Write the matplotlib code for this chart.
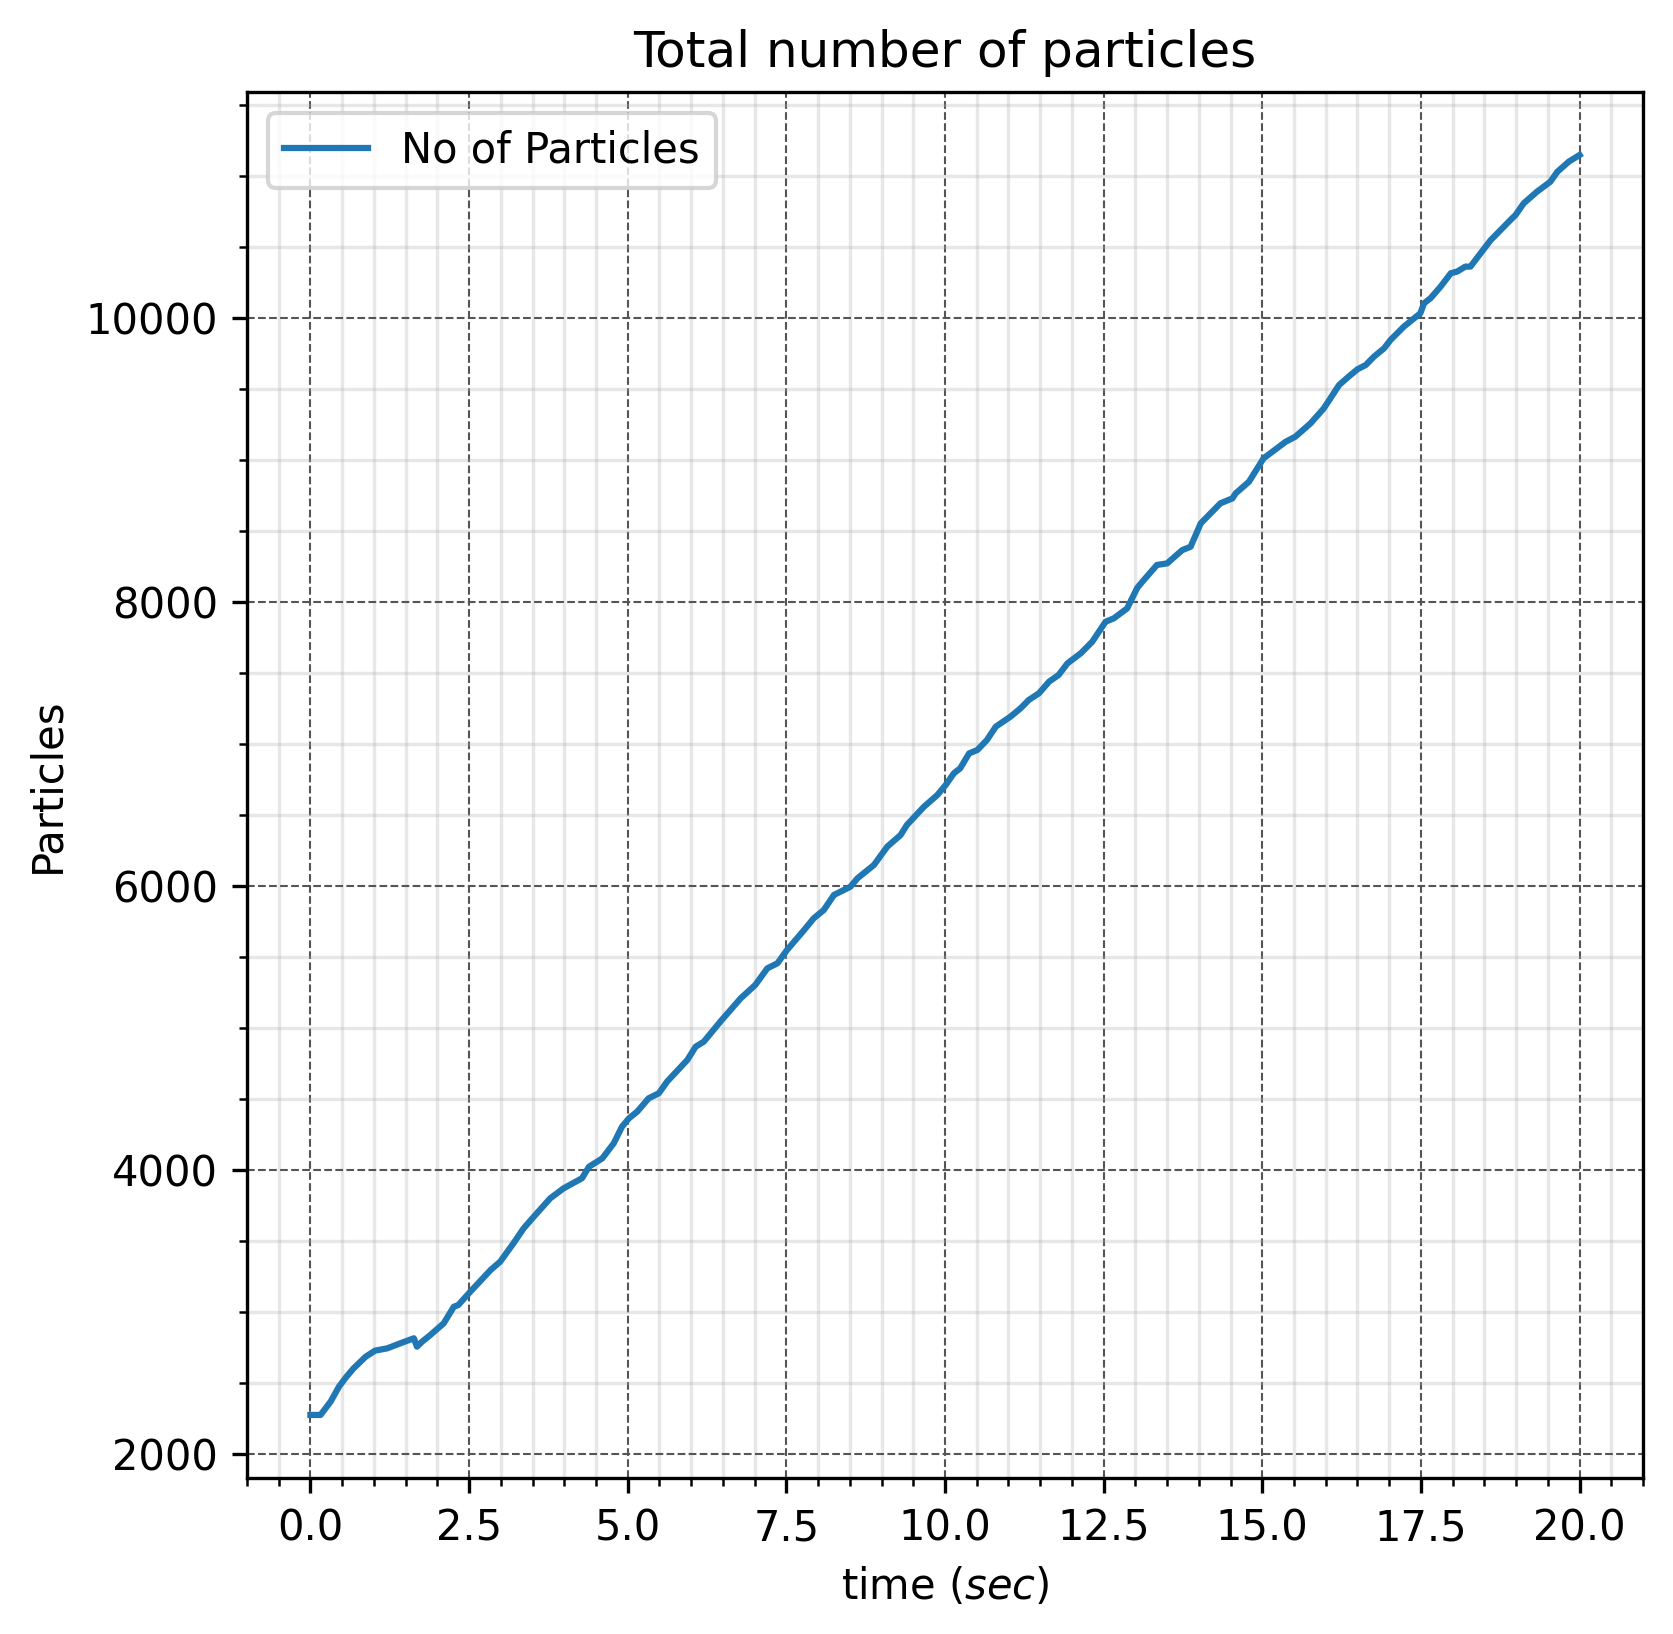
import numpy as np
import matplotlib
matplotlib.use('Agg')
import matplotlib.pyplot as plt

# time (sec) and particle count
time_sec = [0.00, 0.16, 0.32, 0.45, 0.56, 0.68, 0.87, 1.02, 1.21, 1.42, 1.63, 1.68, 1.76,
            1.89, 2.10, 2.26, 2.33, 2.52, 2.84, 2.99, 3.20, 3.36, 3.52, 3.78, 3.99, 4.28,
            4.39, 4.60, 4.78, 4.91, 5.02, 5.15, 5.33, 5.49, 5.62, 5.94, 6.07, 6.20, 6.46,
            6.78, 7.01, 7.20, 7.36, 7.51, 7.78, 7.93, 8.09, 8.25, 8.51, 8.62, 8.88, 9.09,
            9.30, 9.40, 9.67, 9.88, 10.01, 10.14, 10.24, 10.38, 10.51, 10.66, 10.80, 11.03,
            11.19, 11.32, 11.48, 11.64, 11.79, 11.93, 12.14, 12.32, 12.53, 12.66, 12.87,
            13.03, 13.11, 13.34, 13.50, 13.74, 13.87, 14.03, 14.34, 14.53, 14.58, 14.79,
            15.02, 15.37, 15.52, 15.76, 15.97, 16.21, 16.36, 16.50, 16.63, 16.76, 16.92,
            17.02, 17.23, 17.49, 17.55, 17.65, 17.81, 17.97, 18.07, 18.20, 18.28, 18.44,
            18.60, 18.73, 18.91, 18.99, 19.12, 19.33, 19.54, 19.65, 19.83, 20.00]
particles = [2275, 2275, 2370, 2474, 2540, 2603, 2685, 2728, 2744, 2780, 2815, 2756, 2791,
             2838, 2920, 3037, 3049, 3143, 3296, 3354, 3484, 3589, 3671, 3801, 3871, 3942,
             4023, 4082, 4188, 4305, 4364, 4411, 4505, 4540, 4622, 4775, 4868, 4904, 5045,
             5209, 5303, 5420, 5456, 5549, 5690, 5772, 5831, 5937, 5995, 6054, 6148, 6277,
             6359, 6430, 6559, 6641, 6711, 6794, 6829, 6934, 6958, 7028, 7122, 7192,
             7251, 7310, 7357, 7439, 7486, 7568, 7639, 7720, 7861, 7885, 7955,
             8100, 8143, 8261, 8272, 8366, 8389, 8554, 8695, 8730, 8765, 8847,
             9012, 9129, 9164, 9258, 9364, 9528, 9587, 9639, 9669, 9728, 9787,
             9845, 9939, 10033, 10104, 10139, 10221, 10315, 10327, 10362, 10362, 10456,
             10549, 10608, 10690, 10725, 10808, 10890, 10960, 11030, 11101, 11148]

fig, ax = plt.subplots(figsize=(1673/300, 1634/300), dpi=300)
fig.subplots_adjust(left=0.1476, right=0.9821, top=0.9437, bottom=0.0955)

ax.plot(time_sec, particles, label='No of Particles')

ax.minorticks_on()
ax.grid(which='major', linestyle='--', linewidth=0.5, color='#555555')
ax.grid(which='minor', linestyle='-', linewidth=0.8, color='#b0b0b0', alpha=0.3)

ax.set_title('Total number of particles')
ax.set_xlabel('time ($sec$)')
ax.set_ylabel('Particles')
ax.legend(loc='upper left')

fig.savefig('out.png', dpi=300)
